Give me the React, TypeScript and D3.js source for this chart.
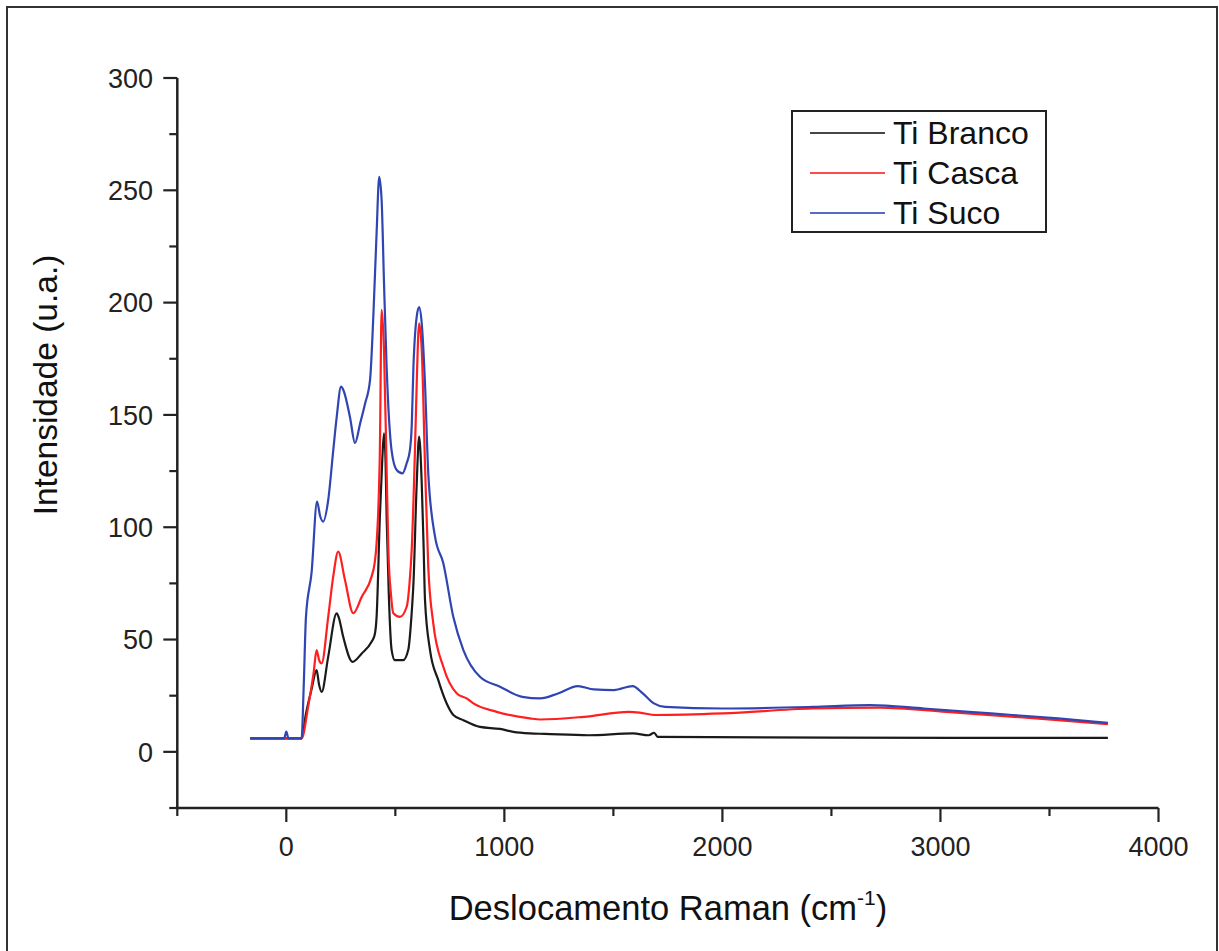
import React from "react";
import * as d3 from "d3";

const brancoShift = [-166, 70, 90, 115, 139, 150, 162, 192, 231, 240, 261, 304, 346, 391, 405, 414, 429, 440, 448, 455, 460, 470, 483, 498, 536, 559, 575, 583, 598, 609, 621, 630, 636, 659, 697, 735, 766, 812, 888, 980, 1041, 1117, 1184, 1385, 1590, 1662, 1687, 1703, 2500, 3768];
const brancoIntensity = [6, 6, 17, 27.5, 36.4, 30, 26.7, 42.3, 61.7, 60, 51.2, 40.1, 43.8, 49, 52, 60, 104.7, 130, 141.8, 130, 104.7, 70, 45.3, 40.8, 40.8, 45.3, 62, 75, 119.6, 140.3, 119.6, 90, 67.6, 45.3, 31.9, 21.6, 16.4, 14.1, 11.1, 10.2, 8.9, 8.2, 8.0, 7.4, 8.2, 7.4, 8.5, 6.7, 6.3, 6.2];

const cascaShift = [-166, 70, 100, 125, 139, 150, 162, 192, 215, 238, 269, 307, 346, 391, 405, 414, 429, 437, 448, 460, 468, 480, 491, 521, 552, 565, 575, 590, 598, 609, 621, 636, 651, 674, 720, 782, 827, 858, 965, 1117, 1164, 1365, 1571, 1620, 1694, 2002, 2413, 2720, 3027, 3437, 3768];
const cascaIntensity = [6, 6, 20, 35, 45.3, 41, 39.4, 60, 78, 89.1, 76.5, 61.7, 69, 78, 84, 92.8, 134, 196.8, 179, 125.5, 89.9, 70, 61.7, 60.1, 64.6, 75, 89.9, 134.4, 164, 190.8, 179, 128, 82.4, 57.2, 37.9, 26, 23.8, 21.6, 17.8, 14.9, 14.4, 15.6, 17.8, 17.5, 16.4, 17.1, 19.3, 19.7, 17.8, 14.9, 12.3];

const sucoShift = [-166, -10, 0, 10, 70, 80, 90, 116, 141, 155, 169, 192, 215, 231, 251, 262, 292, 315, 338, 361, 384, 399, 414, 426, 437, 448, 460, 483, 506, 533, 552, 567, 575, 583, 598, 609, 621, 636, 651, 682, 720, 766, 812, 888, 980, 1082, 1164, 1246, 1337, 1410, 1502, 1588, 1635, 1686, 1737, 2002, 2413, 2679, 2924, 3232, 3539, 3768];
const sucoIntensity = [6, 6, 9, 6, 6, 30, 60, 80, 111.4, 105, 102.5, 112, 134, 149, 162.6, 161, 149, 137.5, 146, 155, 165.6, 193.8, 231, 256, 245.8, 208.8, 171.5, 134, 125.5, 124, 128.5, 134.4, 144.8, 171.5, 193.8, 198, 190.8, 164, 124, 95.8, 84, 60, 45.3, 33.4, 29, 24.5, 23.8, 26, 29.3, 27.8, 27.5, 29.3, 26, 21.6, 20, 19.3, 20, 20.8, 19.3, 17.1, 14.9, 12.9];

const seriesNames = ["Ti Branco", "Ti Casca", "Ti Suco"];
const seriesColors = ["#1a1a1a", "#ff1f1f", "#3045b2"];

const xMajorTicks = [0, 1000, 2000, 3000, 4000];
const xMinorTicks = [-500, 500, 1500, 2500, 3500];
const yMajorTicks = [0, 50, 100, 150, 200, 250, 300];
const yMinorTicks = [-25, 25, 75, 125, 175, 225, 275];

const xTitle = "Deslocamento Raman (cm";
const yTitle = "Intensidade (u.a.)";

const FONT = "'Liberation Sans', Arial, Helvetica, sans-serif";

export default function App() {
  const x = d3.scaleLinear().domain([-500, 4000]).range([177.3, 1158.5]);
  const y = d3.scaleLinear().domain([-25, 300]).range([808, 78]);

  const series = [
    { xs: brancoShift, ys: brancoIntensity },
    { xs: cascaShift, ys: cascaIntensity },
    { xs: sucoShift, ys: sucoIntensity },
  ];

  const line = d3
    .line<[number, number]>()
    .x((d) => x(d[0]))
    .y((d) => y(d[1]))
    .curve(d3.curveMonotoneX);

  const axisColor = "#222";
  const x0 = x(-500);
  const y0 = y(-25);

  const legendRows = [133, 173, 213];

  return (
    <svg
      width={1219}
      height={951}
      style={{ position: "absolute", left: 0, top: 0, display: "block", background: "#fff" }}
      fontFamily={FONT}
    >
      <rect x={0} y={0} width={1219} height={951} fill="#fff" />
      <path d="M7,960 V7 H1217 V960" fill="none" stroke="#333" strokeWidth={2} />

      {series.map((s, i) => (
        <path
          key={i}
          d={line(s.xs.map((v, j) => [v, s.ys[j]] as [number, number])) || ""}
          fill="none"
          stroke={seriesColors[i]}
          strokeWidth={2.2}
          strokeLinejoin="round"
        />
      ))}

      {/* axes */}
      <line x1={x0} x2={x(4000)} y1={y0} y2={y0} stroke={axisColor} strokeWidth={2.5} />
      <line x1={x0} x2={x0} y1={y0} y2={y(300)} stroke={axisColor} strokeWidth={2.5} />

      {xMajorTicks.map((t) => (
        <g key={"xM" + t}>
          <line x1={x(t)} x2={x(t)} y1={y0} y2={y0 + 14} stroke={axisColor} strokeWidth={2.2} />
          <text x={x(t)} y={856} textAnchor="middle" fontSize={27} fill="#222">
            {t}
          </text>
        </g>
      ))}
      {xMinorTicks.map((t) => (
        <line key={"xm" + t} x1={x(t)} x2={x(t)} y1={y0} y2={y0 + 8} stroke={axisColor} strokeWidth={2.2} />
      ))}
      {yMajorTicks.map((t) => (
        <g key={"yM" + t}>
          <line x1={x0} x2={x0 - 14} y1={y(t)} y2={y(t)} stroke={axisColor} strokeWidth={2.2} />
          <text x={153} y={y(t) + 9.7} textAnchor="end" fontSize={27} fill="#222">
            {t}
          </text>
        </g>
      ))}
      {yMinorTicks.map((t) => (
        <line key={"ym" + t} x1={x0} x2={x0 - 8} y1={y(t)} y2={y(t)} stroke={axisColor} strokeWidth={2.2} />
      ))}

      {/* titles */}
      <text x={668} y={920} textAnchor="middle" fontSize={34.5} fill="#111">
        {xTitle}
        <tspan dy={-15} fontSize={21}>-1</tspan>
        <tspan dy={15}>)</tspan>
      </text>
      <text
        transform={`translate(57,385) rotate(-90)`}
        textAnchor="middle"
        fontSize={33.5}
        fill="#111"
      >
        {yTitle}
      </text>

      {/* legend */}
      <rect x={792} y={111} width={254} height={121} fill="#fff" stroke="#222" strokeWidth={2} />
      {seriesNames.map((n, i) => (
        <g key={n}>
          <line x1={810} x2={885} y1={legendRows[i]} y2={legendRows[i]} stroke={seriesColors[i]} strokeWidth={2.2} opacity={0.8} />
          <text x={893} y={legendRows[i] + 11} fontSize={32} fill="#111">
            {n}
          </text>
        </g>
      ))}
    </svg>
  );
}
